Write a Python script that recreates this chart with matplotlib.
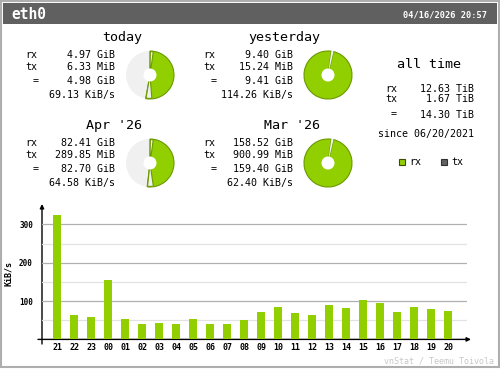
import matplotlib
matplotlib.use('Agg')
import matplotlib.pyplot as plt
from matplotlib.patches import Wedge, Circle, Rectangle

# ---------------- data ----------------
interface = 'eth0'
timestamp = '04/16/2026 20:57'
periods = ['today', 'yesterday', "Apr '26", "Mar '26"]
rx_text = ['4.97 GiB', '9.40 GiB', '82.41 GiB', '158.52 GiB']
tx_text = ['6.33 MiB', '15.24 MiB', '289.85 MiB', '900.99 MiB']
total_text = ['4.98 GiB', '9.41 GiB', '82.70 GiB', '159.40 GiB']
rate_text = ['69.13 KiB/s', '114.26 KiB/s', '64.58 KiB/s', '62.40 KiB/s']
total_gib = [4.98, 9.41, 82.70, 159.40]
alltime_title = 'all time'
alltime_rx = '12.63 TiB'
alltime_tx = '1.67 TiB'
alltime_total = '14.30 TiB'
since_text = 'since 06/20/2021'
hours = ['21', '22', '23', '00', '01', '02', '03', '04', '05', '06', '07', '08',
         '09', '10', '11', '12', '13', '14', '15', '16', '17', '18', '19', '20']
hour_rate = [324, 64, 58, 155, 53, 40, 43, 40, 53, 40, 40, 50,
             71, 84, 69, 64, 90, 82, 103, 95, 71, 84, 79, 74]
y_ticks = [100, 200, 300]
y_minor = [50, 150, 250]
footer = 'vnStat / Teemu Toivola'

# ---------------- style ----------------
GREEN = '#92CF00'
GREEN_D = '#6B9A00'
TXC = '#606060'
HEADER = '#606060'
EDGE = '#AEAEAE'
PIEBG = '#F0F0F0'
MONO = 'DejaVu Sans Mono'

W, H = 500, 370
fig = plt.figure(figsize=(5, 3.7), dpi=100)
fig.patch.set_facecolor('white')
ov = fig.add_axes([0, 0, 1, 1], zorder=0)
ov.set_xlim(0, W)
ov.set_ylim(H, 0)
ov.axis('off')

# frame & header
ov.add_patch(Rectangle((1, 1), 497.5, 366, fill=False, edgecolor=EDGE, lw=1.5))
ov.add_patch(Rectangle((3, 3), 494, 21, facecolor=HEADER, edgecolor='none'))
ov.text(11, 14.5, interface, color='white', fontsize=10.5, fontweight='bold',
        family=MONO, ha='left', va='center')
ov.text(487, 14.5, timestamp, color='white', fontsize=6.2, fontweight='bold',
        family=MONO, ha='right', va='center')


def draw_pie(cx, cy, frac, r=24, hole=6.5):
    ov.add_patch(Circle((cx, cy), r, facecolor=PIEBG, edgecolor='none'))
    end = frac * 360.0
    lw = 0.8
    if frac >= 0.999:
        # full ring with small gap near top
        ov.add_patch(Wedge((cx, cy), r, -90 + 13, -90 + 368, facecolor=GREEN,
                           edgecolor=GREEN_D, lw=lw))
        ov.add_patch(Wedge((cx, cy), r, -90 + 8, -90 + 13, facecolor='#FAFAFA',
                           edgecolor='none'))
    else:
        ov.add_patch(Wedge((cx, cy), r, -90, -90 + end, facecolor=GREEN,
                           edgecolor=GREEN_D, lw=lw))
        ov.add_patch(Wedge((cx, cy), r - 0.6, -90 + 0.8, -90 + 8, facecolor='#FAFAFA',
                           edgecolor=GREEN_D, lw=lw))
        ov.add_patch(Wedge((cx, cy), r - 0.6, -90 + end - 15, -90 + end - 0.8,
                           facecolor=PIEBG, edgecolor=GREEN_D, lw=lw))
    ov.add_patch(Circle((cx, cy), hole, facecolor='white', edgecolor='none'))


offsets = [(0, 0), (178, 0), (0, 88), (178, 88)]
pair_max = [max(total_gib[0], total_gib[1]), max(total_gib[0], total_gib[1]),
            max(total_gib[2], total_gib[3]), max(total_gib[2], total_gib[3])]
for i, (dx, dy) in enumerate(offsets):
    ov.text(142 + dx, 37.5 + dy, periods[i], fontsize=9.6, family=MONO,
            ha='right', va='center')
    ov.text(25 + dx, 55 + dy, 'rx', fontsize=7.2, family=MONO, ha='left', va='center')
    ov.text(25 + dx, 67.5 + dy, 'tx', fontsize=7.2, family=MONO, ha='left', va='center')
    ov.text(35.5 + dx, 81 + dy, '=', fontsize=7.2, family=MONO, ha='center', va='center')
    ov.text(115 + dx, 55 + dy, rx_text[i], fontsize=7.2, family=MONO, ha='right', va='center')
    ov.text(115 + dx, 67.5 + dy, tx_text[i], fontsize=7.2, family=MONO, ha='right', va='center')
    ov.text(115 + dx, 81 + dy, total_text[i], fontsize=7.2, family=MONO, ha='right', va='center')
    ov.text(115 + dx, 95 + dy, rate_text[i], fontsize=7.2, family=MONO, ha='right', va='center')
    draw_pie(150 + dx, 75 + dy, total_gib[i] / pair_max[i])

# all time block
ov.text(429, 65, alltime_title, fontsize=9.6, family=MONO, ha='center', va='center')
ov.text(385, 88.5, 'rx', fontsize=7.2, family=MONO, ha='left', va='center')
ov.text(385, 99.5, 'tx', fontsize=7.2, family=MONO, ha='left', va='center')
ov.text(394, 114.5, '=', fontsize=7.2, family=MONO, ha='center', va='center')
ov.text(474, 88.5, alltime_rx, fontsize=7.2, family=MONO, ha='right', va='center')
ov.text(474, 99.5, alltime_tx, fontsize=7.2, family=MONO, ha='right', va='center')
ov.text(474, 114.5, alltime_total, fontsize=7.2, family=MONO, ha='right', va='center')
ov.text(426.5, 134, since_text, fontsize=7.2, family=MONO, ha='center', va='center')

# legend
ov.add_patch(Rectangle((399, 159), 6, 6, facecolor=GREEN, edgecolor='#3a4d00', lw=0.8))
ov.text(409, 162, 'rx', fontsize=7.2, family=MONO, ha='left', va='center')
ov.add_patch(Rectangle((441, 159), 6, 6, facecolor=TXC, edgecolor='#303030', lw=0.8))
ov.text(451, 162, 'tx', fontsize=7.2, family=MONO, ha='left', va='center')

# ---------------- bar chart ----------------
base_px, top_px = 339.4, 210.0
px_per_unit = 38.33 / 100.0
left_px, right_px = 42.0, 467.0
c0, step = 57.3, 17.0
bx = fig.add_axes([left_px / W, (H - base_px) / H, (right_px - left_px) / W,
                   (base_px - top_px) / H], zorder=1)
bx.patch.set_alpha(0)
bx.set_ylim(0, (base_px - top_px) / px_per_unit)
bx.set_xlim((left_px - c0) / step, (right_px - c0) / step)
for s in bx.spines.values():
    s.set_visible(False)
for v in y_minor:
    bx.axhline(v, color='#E2E2E2', lw=0.9, zorder=0)
for v in y_ticks:
    bx.axhline(v, color='#B0B0B0', lw=0.9, zorder=0)
bx.bar(range(len(hours)), hour_rate, width=8.0 / step, color=GREEN, edgecolor='none', zorder=2)
bx.set_xticks(range(len(hours)))
bx.set_xticklabels(hours, family=MONO, fontsize=6, fontweight='bold')
bx.set_yticks(y_ticks)
bx.set_yticklabels([str(v) for v in y_ticks], family=MONO, fontsize=5.5, fontweight='bold')
bx.tick_params(axis='x', length=0, pad=2.5)
bx.tick_params(axis='y', length=0, pad=6.5)

# axes lines with arrows (decoration)
ov.annotate('', xy=(471, base_px), xytext=(38, base_px),
            arrowprops=dict(arrowstyle='-|>', color='black', lw=1.0, mutation_scale=6,
                            shrinkA=0, shrinkB=0))
ov.annotate('', xy=(left_px, 204), xytext=(left_px, 344),
            arrowprops=dict(arrowstyle='-|>', color='black', lw=1.0, mutation_scale=6,
                            shrinkA=0, shrinkB=0))
ov.text(9, 274, 'KiB/s', rotation=90, fontsize=6, family=MONO, fontweight='bold',
        ha='center', va='center')

ov.text(494, 361.5, footer, fontsize=6, family=MONO, color='#C8C8C8',
        ha='right', va='center')

fig.savefig('out.png', dpi=100)
